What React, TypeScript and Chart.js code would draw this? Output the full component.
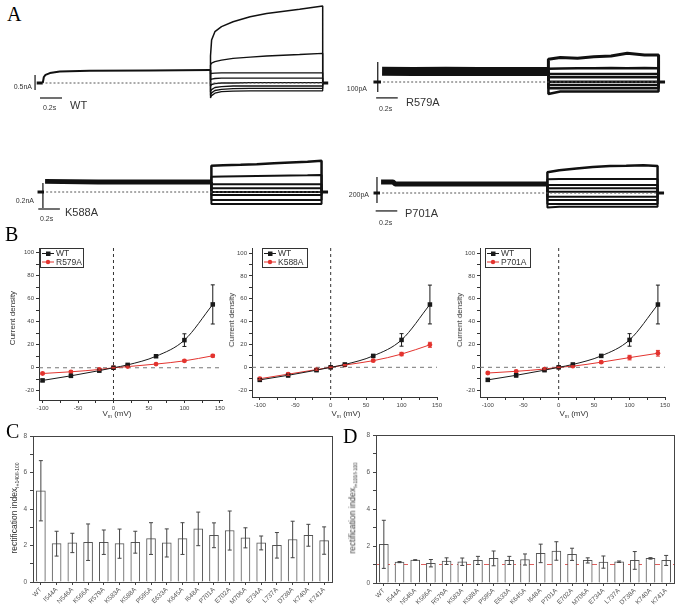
import React, { useEffect, useRef } from 'react';
import { Chart, registerables } from 'chart.js';
Chart.register(...registerables);

const SANS = '"Liberation Sans", Arial, sans-serif';
const SERIF = '"Liberation Serif", "Times New Roman", serif';

// ================= Panel A : current traces =================
// WT (nA)
const wtHold = [-0.03, 0.025];
const wtPreTimes = [0.025, 0.035, 0.05, 0.09, 0.18, 0.45, 1.0, 1.55];
const wtPreValues = [0, 0.2, 0.27, 0.33, 0.38, 0.41, 0.42, 0.43];
const wtTestTimes = [1.55, 1.56, 1.59, 1.65, 1.755, 1.91, 2.06, 2.36, 2.57];
const wtTests = [
  [0.9, 1.43, 1.71, 1.88, 2.04, 2.21, 2.32, 2.46, 2.57],
  [0.6, 0.66, 0.71, 0.76, 0.82, 0.86, 0.9, 0.95, 0.99],
  [0.3, 0.32, 0.33, 0.34, 0.34, 0.34, 0.34, 0.34, 0.34],
  [0.1, 0.13, 0.15, 0.16, 0.16, 0.16, 0.16, 0.16, 0.16],
  [-0.1, -0.05, -0.02, 0, 0, 0.01, 0.01, 0.01, 0.01],
  [-0.3, -0.22, -0.15, -0.12, -0.1, -0.1, -0.1, -0.1, -0.1],
  [-0.42, -0.33, -0.25, -0.21, -0.19, -0.18, -0.18, -0.18, -0.18],
  [-0.5, -0.42, -0.34, -0.29, -0.27, -0.26, -0.26, -0.26, -0.26],
];
// R579A (pA)
const r579Hold = [-0.07, 0];
const r579PreTimes = [0.01, 0.3, 0.6, 0.9, 1.2, 1.55];
const r579PreValues = [36, 35, 36, 35, 35, 35];
const mutTestTimes = [1.55, 1.66, 1.82, 1.97, 2.13, 2.28, 2.44, 2.57];
const r579Tests = [
  [76, 82, 79, 84, 87, 96, 90, 90],
  [44, 45, 46, 46, 47, 46, 47, 46],
  [27, 27, 27, 27, 27, 27, 27, 27],
  [16, 16, 16, 16, 16, 16, 16, 16],
  [1, 1, 1, 1, 1, 1, 1, 1],
  [-10, -10, -10, -10, -10, -10, -10, -10],
  [-21, -21, -21, -21, -21, -21, -21, -21],
  [-40, -32, -32, -32, -32, -32, -32, -32],
];
// K588A (nA)
const k588Hold = [-0.06, 0];
const k588PreTimes = [0.01, 0.5, 1.0, 1.55];
const k588PreValues = [0.085, 0.08, 0.08, 0.08];
const k588Tests = [
  [0.21, 0.214, 0.218, 0.222, 0.23, 0.236, 0.242, 0.25],
  [0.122, 0.124, 0.126, 0.128, 0.13, 0.132, 0.134, 0.136],
  [0.062, 0.062, 0.062, 0.062, 0.062, 0.062, 0.062, 0.062],
  [0.03, 0.03, 0.03, 0.03, 0.03, 0.03, 0.03, 0.03],
  [0, 0, 0, 0, 0, 0, 0, 0],
  [-0.024, -0.024, -0.024, -0.024, -0.024, -0.024, -0.024, -0.024],
  [-0.064, -0.064, -0.064, -0.064, -0.064, -0.064, -0.064, -0.064],
  [-0.096, -0.096, -0.096, -0.096, -0.096, -0.096, -0.096, -0.096],
];
// P701A (pA)
const p701Hold = [-0.06, 0];
const p701PreTimes = [0.01, 0.12, 0.14, 0.5, 1.0, 1.55];
const p701PreValues = [85, 85, 70, 69, 69, 69];
const p701Tests = [
  [159, 175, 188, 200, 207, 210, 214, 208],
  [105, 107, 108, 108, 108, 108, 108, 108],
  [62, 62, 62, 62, 62, 62, 62, 62],
  [36, 36, 36, 36, 36, 36, 36, 36],
  [10, 10, 10, 10, 10, 10, 10, 10],
  [-28, -28, -28, -28, -28, -28, -28, -28],
  [-54, -54, -54, -54, -54, -54, -54, -54],
  [-85, -85, -85, -85, -85, -85, -85, -85],
  [-112, -105, -105, -105, -105, -105, -105, -105],
];

// ================= Panel B : I-V curves =================
const ivVoltages = [-100, -60, -20, 0, 20, 60, 100, 140];
const wtCurrent = [-11, -7, -2.5, 0, 2.5, 10, 24, 55];
const wtCurrentErr = [1, 1.5, 1, 0.3, 0.5, 1, 5.5, 17];
const r579Current = [-5, -3.5, -1.5, 0, 1, 3.2, 6, 10.4];
const r579CurrentErr = [0.8, 0.8, 0.6, 0.3, 0.4, 0.6, 0.8, 1.2];
const k588Current = [-10, -6, -2, 0, 2, 5.8, 11.6, 19.7];
const k588CurrentErr = [1, 1, 0.6, 0.3, 0.5, 0.8, 1.5, 2.2];
const p701Current = [-5, -3.5, -1.5, 0, 1, 4.5, 8.5, 12.3];
const p701CurrentErr = [0.8, 0.8, 0.6, 0.3, 0.4, 0.8, 2, 2.5];

// ================= Panels C, D : rectification index =================
const mutants = ['WT', 'I544A', 'N546A', 'K566A', 'R579A', 'K583A', 'K588A', 'P595A', 'E633A', 'K645A',
  'I648A', 'P701A', 'E702A', 'M706A', 'E734A', 'L737A', 'D738A', 'K740A', 'K741A'];
const riC = [5.0, 2.1, 2.14, 2.18, 2.18, 2.1, 2.18, 2.38, 2.14, 2.38, 2.91, 2.56, 2.82, 2.42, 2.14, 2.01, 2.33, 2.56, 2.27];
const riCErr = [1.65, 0.68, 0.53, 1.0, 0.67, 0.8, 0.6, 0.87, 0.77, 0.87, 0.92, 0.68, 1.07, 0.55, 0.38, 0.7, 1.0, 0.6, 0.75];
const riD = [2.09, 1.13, 1.24, 1.07, 1.18, 1.15, 1.22, 1.33, 1.22, 1.27, 1.6, 1.73, 1.55, 1.22, 1.13, 1.15, 1.22, 1.33, 1.22];
const riDErr = [1.3, 0.03, 0.02, 0.2, 0.18, 0.2, 0.22, 0.4, 0.22, 0.3, 0.5, 0.5, 0.33, 0.14, 0.33, 0.04, 0.48, 0.04, 0.27];
const riRefValue = 1;

// ================= plugins =================
const errorBarsPlugin: any = {
  id: 'errorBars',
  afterDatasetsDraw(chart: any) {
    const ctx = chart.ctx;
    const ys = chart.scales.y;
    chart.data.datasets.forEach((ds: any, i: number) => {
      if (!ds.errors) return;
      const meta = chart.getDatasetMeta(i);
      ctx.save();
      ctx.strokeStyle = ds.errorColor || ds.borderColor;
      ctx.lineWidth = ds.errorWidth || 1;
      meta.data.forEach((el: any, j: number) => {
        const raw = ds.data[j];
        const v = typeof raw === 'number' ? raw : raw.y;
        const e = ds.errors[j];
        if (!e) return;
        const x = el.x;
        const yt = ys.getPixelForValue(v + e);
        const yb = ys.getPixelForValue(v - e);
        const cw = ds.errorCap ?? 2;
        ctx.beginPath();
        ctx.moveTo(x, yt); ctx.lineTo(x, yb);
        ctx.moveTo(x - cw, yt); ctx.lineTo(x + cw, yt);
        ctx.moveTo(x - cw, yb); ctx.lineTo(x + cw, yb);
        ctx.stroke();
      });
      ctx.restore();
    });
  },
};

const refLinesPlugin: any = {
  id: 'refLines',
  beforeDatasetsDraw(chart: any, _a: any, opts: any) {
    if (!opts || !opts.lines) return;
    const ctx = chart.ctx;
    const ca = chart.chartArea;
    opts.lines.forEach((l: any) => {
      ctx.save();
      ctx.strokeStyle = l.color;
      ctx.lineWidth = l.width || 1;
      ctx.setLineDash(l.dash || []);
      ctx.beginPath();
      if (l.axis === 'y') {
        const y = chart.scales.y.getPixelForValue(l.value);
        ctx.moveTo(ca.left, y); ctx.lineTo(ca.right, y);
      } else {
        const x = chart.scales.x.getPixelForValue(l.value);
        ctx.moveTo(x, ca.top); ctx.lineTo(x, ca.bottom);
      }
      ctx.stroke();
      ctx.restore();
    });
  },
};

const framePlugin: any = {
  id: 'frame',
  afterDraw(chart: any, _a: any, opts: any) {
    if (!opts || !opts.color) return;
    const ctx = chart.ctx;
    const ca = chart.chartArea;
    ctx.save();
    ctx.strokeStyle = opts.color;
    ctx.lineWidth = 1;
    ctx.strokeRect(Math.round(ca.left) + 0.5, Math.round(ca.top) + 0.5, Math.round(ca.right - ca.left), Math.round(ca.bottom - ca.top));
    ctx.restore();
  },
};

const boxLegendPlugin: any = {
  id: 'boxLegend',
  afterDraw(chart: any, _a: any, opts: any) {
    if (!opts || !opts.box) return;
    const ctx = chart.ctx;
    const b = opts.box;
    ctx.save();
    ctx.fillStyle = '#fff';
    ctx.fillRect(b.x, b.y, b.w, b.h);
    ctx.strokeStyle = '#333';
    ctx.lineWidth = 1;
    ctx.strokeRect(b.x + 0.5, b.y + 0.5, b.w, b.h);
    chart.data.datasets.forEach((ds: any, i: number) => {
      const y = b.y + 5.5 + i * 8.5;
      ctx.strokeStyle = ds.borderColor;
      ctx.lineWidth = 1;
      ctx.beginPath();
      ctx.moveTo(b.x + 2, y); ctx.lineTo(b.x + 14, y);
      ctx.stroke();
      ctx.fillStyle = ds.borderColor;
      if (ds.pointStyle === 'rect') {
        ctx.fillRect(b.x + 6, y - 2, 4.5, 4.5);
      } else {
        ctx.beginPath(); ctx.arc(b.x + 8, y, 2.2, 0, Math.PI * 2); ctx.fill();
      }
      ctx.fillStyle = '#333';
      ctx.font = `8.5px ${SANS}`;
      ctx.textBaseline = 'middle';
      ctx.fillText(ds.label, b.x + 16, y + 0.5);
    });
    ctx.restore();
  },
};

// ================= chart builders =================
function traceConfig(s: any) {
  const { left, top, width, height } = s.box;
  const { x0, pxPerS, base, pxPerUnit } = s.map;
  const xmin = (left - x0) / pxPerS, xmax = (left + width - x0) / pxPerS;
  const ymax = (base - top) / pxPerUnit, ymin = (base - top - height) / pxPerUnit;
  const line = (data: any[], w: number, extra: any = {}) => ({
    data, borderColor: '#111', borderWidth: w, pointRadius: 0, tension: 0, fill: false,
    clip: false, borderJoinStyle: 'bevel', ...extra,
  });
  const preLast = s.preValues[s.preValues.length - 1];
  const datasets: any[] = [
    line([{ x: s.baseline[0], y: 0 }, { x: s.baseline[1], y: 0 }], 1, { borderDash: [2, 2], borderColor: '#555' }),
    line(s.hold.map((t: number) => ({ x: t, y: 0 })), 3),
    line(s.preTimes.map((t: number, i: number) => ({ x: t, y: s.preValues[i] })), s.preWidth),
    ...s.tests.map((vals: number[], k: number) => line([
      { x: s.stepT, y: preLast },
      ...s.testTimes.map((t: number, i: number) => ({ x: t, y: vals[i] })),
      { x: s.endT, y: 0 },
    ], k === 0 ? s.topWidth : s.testWidth)),
    line([{ x: s.endT, y: 0 }, { x: s.tailEnd, y: 0 }], 3),
    line([{ x: s.vBar[0], y: s.vBar[1] }, { x: s.vBar[0], y: s.vBar[2] }], 1.2),
    line([{ x: s.hBar[1], y: s.hBar[0] }, { x: s.hBar[2], y: s.hBar[0] }], 1.2),
  ];
  return {
    type: 'line',
    data: { datasets },
    options: {
      responsive: false, animation: false, devicePixelRatio: 1, events: [],
      layout: { padding: 0 },
      plugins: { legend: { display: false }, tooltip: { enabled: false } },
      scales: {
        x: { type: 'linear', display: false, min: xmin, max: xmax },
        y: { type: 'linear', display: false, min: ymin, max: ymax },
      },
    },
  };
}

function ivConfig(o: any) {
  const mk = (label: string, vals: number[], errs: number[], color: string, style: string, r: number) => ({
    label, data: ivVoltages.map((v, i) => ({ x: v, y: vals[i] })), errors: errs, errorCap: 2,
    borderColor: color, backgroundColor: color, borderWidth: 1, pointStyle: style, pointRadius: r,
    pointBorderWidth: 0, cubicInterpolationMode: 'monotone', clip: false,
  });
  const axisCommon = {
    border: { color: '#333', width: 1 },
    grid: { drawOnChartArea: false, tickLength: 3, color: '#333' },
  };
  return {
    type: 'line',
    data: {
      datasets: [
        mk('WT', wtCurrent, wtCurrentErr, '#1a1a1a', 'rect', 3.2),
        mk(o.mutLabel, o.mutValues, o.mutErr, '#e3342f', 'circle', 2.4),
      ],
    },
    options: {
      responsive: false, animation: false, devicePixelRatio: 1, events: [],
      layout: { padding: { top: o.padTop, right: o.padRight, left: 0, bottom: 0 } },
      plugins: {
        legend: { display: false }, tooltip: { enabled: false },
        refLines: {
          lines: [
            { axis: 'y', value: 0, color: '#777', dash: [4, 4], width: 1 },
            { axis: 'x', value: 0, color: '#333', dash: [3, 3], width: 1 },
          ],
        },
        boxLegend: { box: o.legend },
      },
      scales: {
        x: {
          type: 'linear', min: o.xRange[0], max: o.xRange[1], ...axisCommon,
          afterFit: (s: any) => { s.height = o.xHeight; },
          ticks: {
            stepSize: 25, includeBounds: false, autoSkip: false, maxRotation: 0, padding: 2,
            callback: (v: number) => (v % 50 === 0 ? String(v) : ''),
            font: { size: 6, family: SANS }, color: '#444',
          },
        },
        y: {
          type: 'linear', min: o.yRange[0], max: o.yRange[1], ...axisCommon,
          afterFit: (s: any) => { s.width = o.yWidth; },
          ticks: {
            stepSize: 10, includeBounds: false, autoSkip: false, padding: 2,
            callback: (v: number) => (v % 20 === 0 ? String(v) : ''),
            font: { size: 6, family: SANS }, color: '#444',
          },
        },
      },
    },
    plugins: [errorBarsPlugin, refLinesPlugin, boxLegendPlugin],
  };
}

function riConfig(o: any) {
  const axisCommon = {
    border: { color: '#444', width: 1 },
    grid: { drawOnChartArea: false, tickLength: 3, color: '#444', offset: false },
  };
  return {
    type: 'bar',
    data: {
      labels: mutants,
      datasets: [{
        data: o.values, errors: o.errors, errorColor: '#444', errorCap: 2,
        backgroundColor: '#fff', borderColor: '#555', borderWidth: 1, barThickness: 9,
      }],
    },
    options: {
      responsive: false, animation: false, devicePixelRatio: 1, events: [],
      layout: { padding: { top: o.padTop, right: o.padRight, left: 0, bottom: 0 } },
      plugins: {
        legend: { display: false }, tooltip: { enabled: false },
        frame: { color: '#444' },
        refLines: { lines: o.refLines || [] },
      },
      scales: {
        x: {
          type: 'category', offset: true, ...axisCommon,
          afterFit: (s: any) => { s.height = o.xHeight; },
          ticks: {
            autoSkip: false, maxRotation: 45, minRotation: 45, padding: 1,
            font: { size: 6.5, family: SANS }, color: '#555',
          },
        },
        y: {
          type: 'linear', min: 0, max: 8, ...axisCommon,
          afterFit: (s: any) => { s.width = o.yWidth; },
          ticks: {
            stepSize: 1, autoSkip: false, padding: 3,
            callback: (v: number) => (v % 2 === 0 ? String(v) : ''),
            font: { size: 6.5, family: SANS }, color: '#555',
          },
        },
      },
    },
    plugins: [errorBarsPlugin, refLinesPlugin, framePlugin],
  };
}

// ================= components =================
function ChartBox({ left, top, width, height, make }: any) {
  const ref = useRef<HTMLCanvasElement>(null);
  useEffect(() => {
    const c = new Chart(ref.current as any, make());
    return () => c.destroy();
  }, []);
  return <canvas ref={ref} width={width} height={height}
    style={{ position: 'absolute', left, top, width, height }} />;
}

function T({ x, y, s, align = 'left', family = SANS, color = '#333', children }: any) {
  const st: any = {
    position: 'absolute', top: y - 0.49 * s, fontSize: s, lineHeight: `${s}px`,
    fontFamily: family, color, whiteSpace: 'nowrap',
  };
  if (align === 'left') st.left = x;
  else if (align === 'right') st.right = 688 - x;
  else { st.left = x; st.transform = 'translateX(-50%)'; }
  return <div style={st}>{children}</div>;
}

function VT({ x, y, s, children }: any) {
  return (
    <div style={{
      position: 'absolute', left: x, top: y, fontSize: s, lineHeight: `${s + 2}px`,
      fontFamily: SANS, color: '#333', whiteSpace: 'nowrap',
      transform: 'translate(-50%,-50%) rotate(-90deg)',
    }}>{children}</div>
  );
}

const Sub = ({ children, s }: any) => (
  <span style={{ fontSize: s, position: 'relative', top: s * 0.45 }}>{children}</span>
);

const traceSpecs: any[] = [
  {
    box: { left: 25, top: 0, width: 310, height: 110 }, map: { x0: 40, pxPerS: 110, base: 83, pxPerUnit: 30 },
    hold: wtHold, preTimes: wtPreTimes, preValues: wtPreValues, preWidth: 2,
    testTimes: wtTestTimes, tests: wtTests, testWidth: 1.3, topWidth: 1.5,
    stepT: 1.55, endT: 2.57, tailEnd: 2.62, vBar: [-0.045, -0.23, 0.27], hBar: [-0.5, 0, 0.2], baseline: [0.05, 2.57],
  },
  {
    box: { left: 360, top: 40, width: 315, height: 70 }, map: { x0: 381, pxPerS: 108, base: 82, pxPerUnit: 0.3 },
    hold: r579Hold, preTimes: r579PreTimes, preValues: r579PreValues, preWidth: 9,
    testTimes: mutTestTimes, tests: r579Tests, testWidth: 2.5, topWidth: 3,
    stepT: 1.55, endT: 2.57, tailEnd: 2.63, vBar: [-0.03, -33, 67], hBar: [-53, -0.045, 0.155], baseline: [0.02, 2.57],
  },
  {
    box: { left: 25, top: 145, width: 310, height: 72 }, map: { x0: 44, pxPerS: 108, base: 192, pxPerUnit: 125 },
    hold: k588Hold, preTimes: k588PreTimes, preValues: k588PreValues, preWidth: 5,
    testTimes: mutTestTimes, tests: k588Tests, testWidth: 2, topWidth: 2.5,
    stepT: 1.55, endT: 2.57, tailEnd: 2.63, vBar: [-0.01, -0.128, 0.072], hBar: [-0.136, -0.053, 0.147], baseline: [0.02, 2.57],
  },
  {
    box: { left: 360, top: 150, width: 315, height: 68 }, map: { x0: 380, pxPerS: 108, base: 193, pxPerUnit: 0.13 },
    hold: p701Hold, preTimes: p701PreTimes, preValues: p701PreValues, preWidth: 5,
    testTimes: mutTestTimes, tests: p701Tests, testWidth: 2, topWidth: 2.5,
    stepT: 1.55, endT: 2.57, tailEnd: 2.63, vBar: [-0.028, -77, 123], hBar: [-138, -0.04, 0.16], baseline: [0.02, 2.57],
  },
];

const ivSpecs: any[] = [
  {
    box: { left: 0, top: 226, width: 232, height: 194 }, mutLabel: 'R579A', mutValues: r579Current, mutErr: r579CurrentErr,
    xRange: [-105, 153], yRange: [-28, 104], padTop: 22, padRight: 10, yWidth: 39, xHeight: 20,
    legend: { x: 40, y: 22, w: 43, h: 19 },
  },
  {
    box: { left: 222, top: 226, width: 225, height: 194 }, mutLabel: 'K588A', mutValues: k588Current, mutErr: k588CurrentErr,
    xRange: [-111, 150], yRange: [-26, 104.5], padTop: 22, padRight: 10, yWidth: 30, xHeight: 23,
    legend: { x: 40, y: 22, w: 45, h: 19 },
  },
  {
    box: { left: 450, top: 226, width: 225, height: 194 }, mutLabel: 'P701A', mutValues: p701Current, mutErr: p701CurrentErr,
    xRange: [-111, 150], yRange: [-26, 104.5], padTop: 22, padRight: 10, yWidth: 30, xHeight: 23,
    legend: { x: 35, y: 22, w: 45, h: 19 },
  },
];

const riSpecs: any[] = [
  { box: { left: 0, top: 425, width: 340, height: 187 }, values: riC, errors: riCErr, padTop: 11, padRight: 8, yWidth: 33, xHeight: 30 },
  {
    box: { left: 344, top: 425, width: 344, height: 187 }, values: riD, errors: riDErr, padTop: 10, padRight: 14, yWidth: 32, xHeight: 29,
    refLines: [{ axis: 'y', value: riRefValue, color: '#e0605e', dash: [5, 4], width: 1.2 }],
  },
];

export default function App() {
  return (
    <div style={{ position: 'absolute', left: 0, top: 0, width: 688, height: 612, background: '#fff', overflow: 'hidden' }}>
      {traceSpecs.map((s, i) => (
        <ChartBox key={'a' + i} {...s.box} make={() => traceConfig(s)} />
      ))}
      {ivSpecs.map((s, i) => (
        <ChartBox key={'b' + i} {...s.box} make={() => ivConfig(s)} />
      ))}
      {riSpecs.map((s, i) => (
        <ChartBox key={'c' + i} {...s.box} make={() => riConfig(s)} />
      ))}

      {/* panel letters */}
      <div style={{ position: 'absolute', left: 7, top: 4, fontFamily: SERIF, fontSize: 20, lineHeight: '20px' }}>A</div>
      <div style={{ position: 'absolute', left: 5, top: 224, fontFamily: SERIF, fontSize: 20, lineHeight: '20px' }}>B</div>
      <div style={{ position: 'absolute', left: 6, top: 421, fontFamily: SERIF, fontSize: 20, lineHeight: '20px' }}>C</div>
      <div style={{ position: 'absolute', left: 343, top: 426, fontFamily: SERIF, fontSize: 20, lineHeight: '20px' }}>D</div>

      {/* panel A labels */}
      <T x={32} y={86} s={7} align="right">0.5nA</T>
      <T x={43} y={107} s={7}>0.2s</T>
      <T x={70} y={105} s={11}>WT</T>
      <T x={367} y={88} s={7} align="right">100pA</T>
      <T x={379} y={108} s={7}>0.2s</T>
      <T x={406} y={102} s={11}>R579A</T>
      <T x={34} y={200} s={7} align="right">0.2nA</T>
      <T x={40} y={218} s={7}>0.2s</T>
      <T x={65} y={212} s={11}>K588A</T>
      <T x={369} y={194} s={7} align="right">200pA</T>
      <T x={405} y={213} s={11}>P701A</T>
      <T x={379} y={222} s={7}>0.2s</T>

      {/* panel B axis titles */}
      <VT x={13} y={318} s={8}>Current density</VT>
      <VT x={232} y={320} s={8}>Current density</VT>
      <VT x={460} y={320} s={8}>Current density</VT>
      <T x={117} y={414} s={8} align="center">V<Sub s={5}>m</Sub> (mV)</T>
      <T x={346} y={414} s={8} align="center">V<Sub s={5}>m</Sub> (mV)</T>
      <T x={574} y={414} s={8} align="center">V<Sub s={5}>m</Sub> (mV)</T>

      {/* panel C / D axis titles */}
      <VT x={15} y={508} s={8.5}>rectification index<Sub s={5}>I+140/I-100</Sub></VT>
      <VT x={353} y={508} s={8.5}>rectification index<Sub s={5}>I+100/I-100</Sub></VT>
    </div>
  );
}
